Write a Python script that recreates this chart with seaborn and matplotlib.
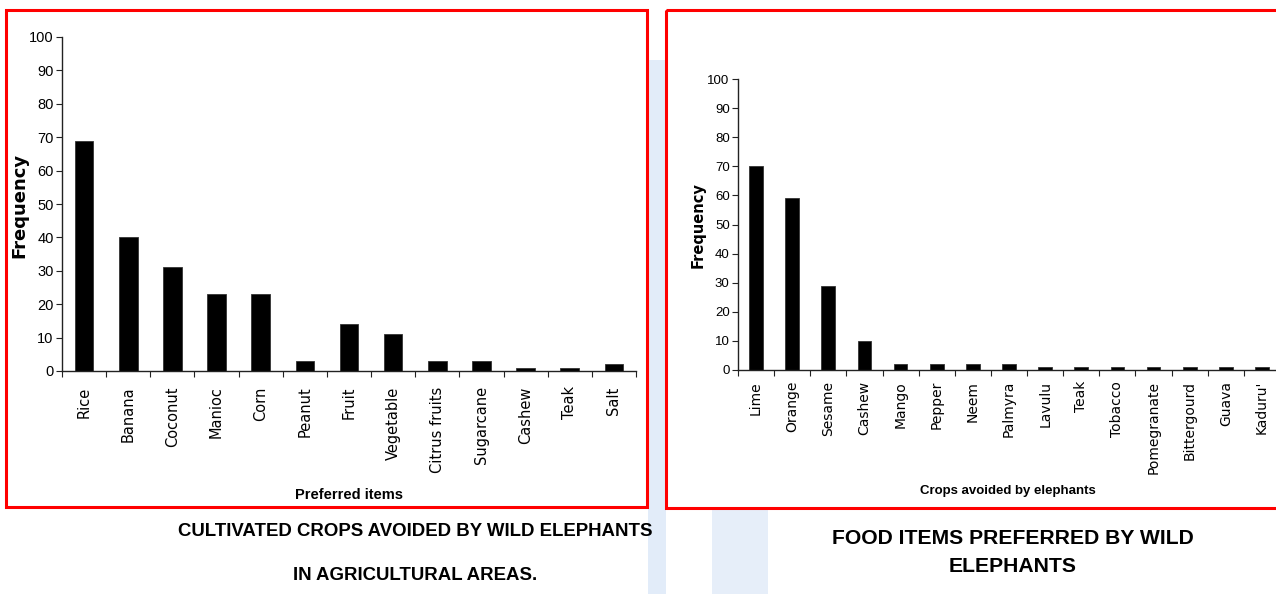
import matplotlib
matplotlib.use("Agg")
import matplotlib.pyplot as plt
from matplotlib import font_manager
from matplotlib.patches import Rectangle
import seaborn as sns
import pandas as pd

# ---- data -------------------------------------------------------------
avoided_items = ["Rice", "Banana", "Coconut", "Manioc", "Corn", "Peanut", "Fruit",
                 "Vegetable", "Citrus fruits", "Sugarcane", "Cashew", "Teak", "Salt"]
avoided_freq = [69, 40, 31, 23, 23, 3, 14, 11, 3, 3, 1, 1, 2]

preferred_items = ["Lime", "Orange", "Sesame", "Cashew", "Mango", "Pepper", "Neem",
                   "Palmyra", "Lavulu", "Teak", "Tobacco", "Pomegranate",
                   "Bittergourd", "Guava", "Kaduru'"]
preferred_freq = [70, 59, 29, 10, 2, 2, 2, 2, 1, 1, 1, 1, 1, 1, 1]

y_ticks = list(range(0, 101, 10))

# ---- style --------------------------------------------------------------
sns.set_theme(style="white")
installed = {f.name for f in font_manager.fontManager.ttflist}
narrow = "Liberation Sans Narrow" if "Liberation Sans Narrow" in installed else "Liberation Sans"
plt.rcParams["font.family"] = ["Liberation Sans", "DejaVu Sans"]
for key in ["text.color", "axes.labelcolor", "xtick.color", "ytick.color"]:
    plt.rcParams[key] = "black"

W, H = 1276, 594
fig = plt.figure(figsize=(W / 100, H / 100), dpi=100)
fig.patch.set_facecolor("white")


def fx(px):
    return px / W


def fy(py):
    return 1 - py / H


# pale background shapes behind the panels
bg = fig.add_axes([0, 0, 1, 1], zorder=-10)
bg.set_xlim(0, W)
bg.set_ylim(H, 0)
bg.axis("off")
bg.add_patch(Rectangle((648, 60), 18, 534, color="#e2ecf9", lw=0))
bg.add_patch(Rectangle((712, 508), 56, 86, color="#e6eef9", lw=0))


def draw_panel(rect, items, freq, width, tick_fs, ytick_fs, pad):
    ax = fig.add_axes(rect)
    df = pd.DataFrame({"item": items, "freq": freq})
    sns.barplot(data=df, x="item", y="freq", color="black", width=width,
                edgecolor="#333333", linewidth=0.6, saturation=1, ax=ax)
    n = len(items)
    ax.set_xlim(-0.5, n - 0.5)
    ax.set_ylim(0, 100)
    ax.set_yticks(y_ticks)
    ax.set_yticklabels([str(v) for v in y_ticks], fontsize=ytick_fs,
                       family=[narrow, "Liberation Sans"])
    ax.tick_params(axis="y", direction="out", length=4, width=0.8,
                   color="#222222", pad=2, left=True)
    ax.set_xticks(range(n))
    ax.set_xticklabels(items, rotation=90, fontsize=tick_fs,
                       family=["DejaVu Sans"], va="top")
    ax.tick_params(axis="x", which="major", length=0, pad=pad)
    ax.set_xticks([i + 0.5 for i in range(-1, n)], minor=True)
    ax.tick_params(axis="x", which="minor", direction="out", length=4,
                   width=0.8, color="#222222", bottom=True)
    for s in ["top", "right"]:
        ax.spines[s].set_visible(False)
    for s in ["left", "bottom"]:
        ax.spines[s].set_color("#222222")
        ax.spines[s].set_linewidth(1.0)
    ax.set_xlabel("")
    ax.set_ylabel("")
    ax.patch.set_alpha(0)
    return ax


# left panel
axL = draw_panel([fx(62), fy(371), fx(636 - 62), (371 - 37) / H],
                 avoided_items, avoided_freq, 0.42, 10.5, 10.5, 11)
# right panel
axR = draw_panel([fx(738), fy(370), fx(1280 - 738), (370 - 79) / H],
                 preferred_items, preferred_freq, 0.38, 10, 9.5, 8)

fig.text(fx(19), fy(205), "Frequency", rotation=90, ha="center", va="center",
         fontsize=13, fontweight="bold", family=["DejaVu Sans"])
fig.text(fx(698), fy(225), "Frequency", rotation=90, ha="center", va="center",
         fontsize=10.5, fontweight="bold", family=["DejaVu Sans"])
fig.text(fx(349), fy(495), "Preferred items", ha="center", va="center",
         fontsize=10.5, fontweight="bold", family=[narrow, "Liberation Sans"])
fig.text(fx(1008), fy(491), "Crops avoided by elephants", ha="center", va="center",
         fontsize=9.5, fontweight="bold", family=[narrow, "Liberation Sans"])

# red frames around the two charts
frame = fig.add_axes([0, 0, 1, 1], zorder=5)
frame.set_xlim(0, W)
frame.set_ylim(H, 0)
frame.axis("off")
frame.add_patch(Rectangle((6, 10), 641, 497, fill=False, ec="#ff0000", lw=2.2))
frame.add_patch(Rectangle((666, 10), 630, 498, fill=False, ec="#ff0000", lw=2.2))

# captions
fig.text(fx(415), fy(531), "CULTIVATED CROPS AVOIDED BY WILD ELEPHANTS",
         ha="center", va="center", fontsize=13.4, fontweight="bold")
fig.text(fx(415), fy(576), "IN AGRICULTURAL AREAS.",
         ha="center", va="center", fontsize=13.4, fontweight="bold")
fig.text(fx(1013), fy(539), "FOOD ITEMS PREFERRED BY WILD",
         ha="center", va="center", fontsize=15.2, fontweight="bold")
fig.text(fx(1013), fy(566), "ELEPHANTS",
         ha="center", va="center", fontsize=15.2, fontweight="bold")

fig.savefig("out.png", dpi=100, facecolor="white")
